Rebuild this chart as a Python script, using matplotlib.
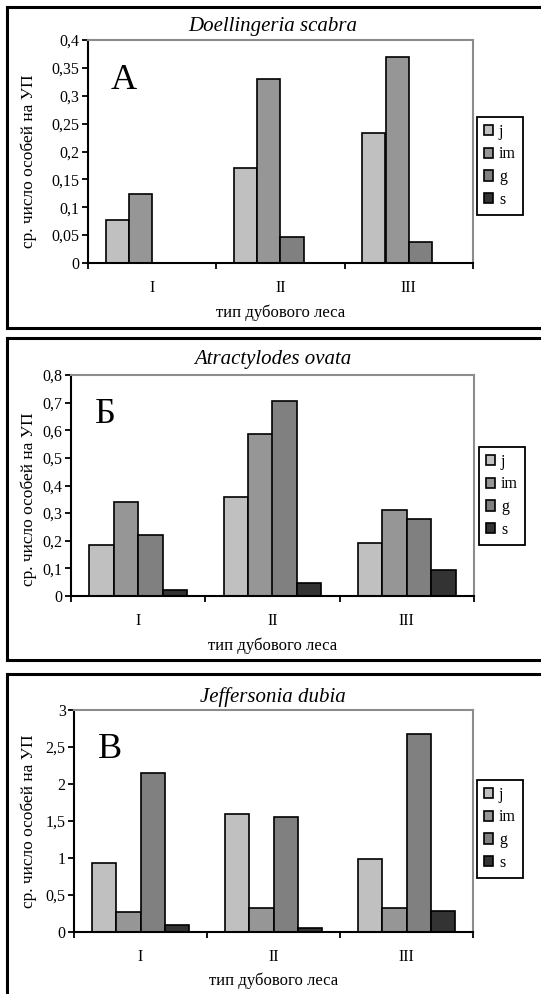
import numpy as np
import matplotlib
matplotlib.use("Agg")
import matplotlib.pyplot as plt
from matplotlib.lines import Line2D
from matplotlib.ticker import FuncFormatter, FixedLocator

plt.rcParams['font.family'] = ['Liberation Serif', 'DejaVu Serif']

groups = ['I', 'II', 'III']
series = ['j', 'im', 'g', 's']
colors = ['#c0c0c0', '#969696', '#808080', '#333333']

# Doellingeria scabra
a_j = [0.077, 0.17, 0.233]
a_im = [0.123, 0.33, 0.37]
a_g = [0.0, 0.047, 0.037]
a_s = [0.0, 0.0, 0.0]

# Atractylodes ovata
b_j = [0.185, 0.36, 0.192]
b_im = [0.34, 0.585, 0.313]
b_g = [0.22, 0.705, 0.28]
b_s = [0.02, 0.047, 0.095]

# Jeffersonia dubia
c_j = [0.93, 1.6, 0.98]
c_im = [0.27, 0.32, 0.32]
c_g = [2.15, 1.55, 2.68]
c_s = [0.1, 0.05, 0.28]

W, H = 541, 994
fig = plt.figure(figsize=(W / 100, H / 100), dpi=100)


def fx(x):
    return x / W


def fy(y):
    return 1 - y / H


def frame(top, bottom):
    kw = dict(color='black', lw=2.2, transform=fig.transFigure, solid_capstyle='projecting')
    fig.add_artist(Line2D([fx(7), fx(545)], [fy(top), fy(top)], **kw))
    fig.add_artist(Line2D([fx(7), fx(7)], [fy(top), fy(bottom)], **kw))
    if bottom < H:
        fig.add_artist(Line2D([fx(7), fx(545)], [fy(bottom), fy(bottom)], **kw))


def comma(v, pos):
    s = f'{v:g}'
    return s.replace('.', ',')


def panel(box, data, ymax, ystep, title, letter, title_y, leg_box, xlab_y, ylab_y):
    left, top, right, bottom = box
    ax = fig.add_axes([fx(left), fy(bottom), fx(right - left), (bottom - top) / H])
    n = len(series)
    w = 1 / 5.5
    x = np.arange(len(groups))
    handles = []
    for i, (vals, col) in enumerate(zip(data, colors)):
        b = ax.bar(x + (i - (n - 1) / 2) * w, vals, width=w, color=col,
                   edgecolor='black', linewidth=1.2, label=series[i])
        handles.append(b)
    ax.set_xlim(-0.5, 2.5)
    ax.set_ylim(0, ymax)
    ax.set_yticks(np.arange(0, ymax + ystep / 2, ystep))
    ax.yaxis.set_major_formatter(FuncFormatter(comma))
    ax.set_xticks(x)
    ax.set_xticklabels(groups)
    ax.xaxis.set_minor_locator(FixedLocator([-0.5, 0.5, 1.5, 2.5]))
    ax.tick_params(axis='x', which='major', length=0, labelsize=11.5, pad=12)
    ax.tick_params(axis='x', which='minor', length=4, width=1.3, direction='out')
    ax.tick_params(axis='y', length=4, width=1.3, direction='out', labelsize=11.5, pad=2)
    for s in ['left', 'bottom']:
        ax.spines[s].set_color('black')
        ax.spines[s].set_linewidth(1.5)
    for s in ['top', 'right']:
        ax.spines[s].set_color('#8c8c8c')
        ax.spines[s].set_linewidth(1.5)
    ax.set_ylabel('ср. число особей на УП', fontsize=12.5, va='center')
    ax.yaxis.set_label_coords(-(left - 29) / (right - left),
                              (bottom - ylab_y) / (bottom - top))
    ax.set_xlabel('тип дубового леса', fontsize=12, va='center')
    ax.xaxis.set_label_coords(0.5, -(xlab_y - bottom) / (bottom - top))
    fig.text(fx(273), fy(title_y), title, fontsize=15, style='italic',
             ha='center', va='center')
    ax.text(0.06, 0.82, letter, transform=ax.transAxes, fontsize=26,
            ha='left', va='center')
    lx0, ly0, lx1, ly1 = leg_box
    leg = fig.legend(handles=handles, labels=series, loc='upper left',
                     bbox_to_anchor=(fx(lx0), fy(ly0)), frameon=True,
                     fancybox=False, edgecolor='black', framealpha=1,
                     handlelength=0.6, handleheight=0.6, handletextpad=0.35,
                     labelspacing=0.42, borderpad=0.42, borderaxespad=0,
                     fontsize=11.5)
    leg.get_frame().set_linewidth(1.3)
    return ax


frame(7, 328)
frame(338, 660)
frame(674, 1100)

panel((88, 40, 473, 263), [a_j, a_im, a_g, a_s], 0.4, 0.05,
      'Doellingeria scabra', 'А', 27, (477, 117, 522, 215), 313, 161)
panel((71, 375, 474, 596), [b_j, b_im, b_g, b_s], 0.8, 0.1,
      'Atractylodes ovata', 'Б', 360, (479, 447, 522, 545), 646, 499)
panel((74, 710, 473, 932), [c_j, c_im, c_g, c_s], 3.0, 0.5,
      'Jeffersonia dubia', 'В', 697, (477, 780, 522, 877), 981, 821)

fig.savefig('out.png', dpi=100, facecolor='white')
